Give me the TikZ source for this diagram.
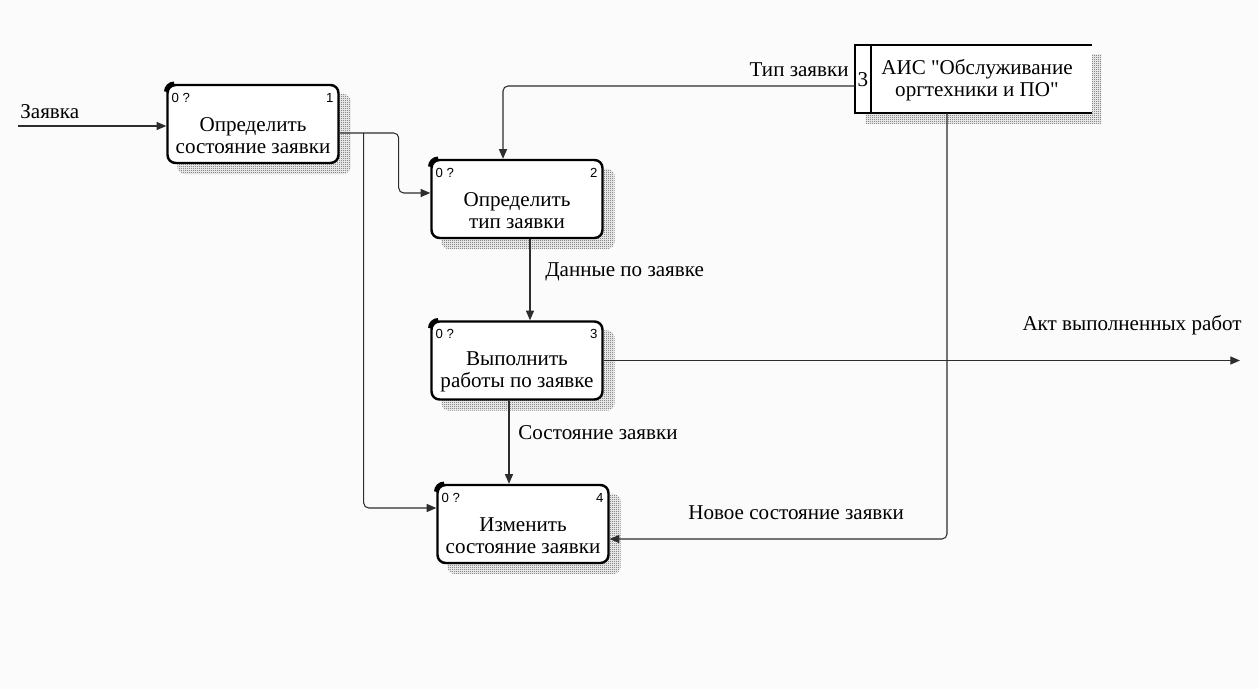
\documentclass[tikz,border=0pt]{standalone}
\usepackage{fontspec}
\setmainfont{Liberation Serif}
\newfontfamily\tagfont{Liberation Sans}
\usetikzlibrary{arrows.meta,patterns,calc}
\pgfdeclarelayer{back}
\pgfsetlayers{back,main}
% fine checkerboard used for the hatched shadows
\pgfdeclarepatternformonly{finechecker}{\pgfqpoint{0pt}{0pt}}{\pgfqpoint{1.2pt}{1.2pt}}{\pgfqpoint{1.2pt}{1.2pt}}{%
  \pgfpathrectangle{\pgfqpoint{0pt}{0pt}}{\pgfqpoint{0.6pt}{0.6pt}}%
  \pgfpathrectangle{\pgfqpoint{0.6pt}{0.6pt}}{\pgfqpoint{0.6pt}{0.6pt}}%
  \pgfusepath{fill}}
\definecolor{paper}{RGB}{251,251,251}
\definecolor{wire}{RGB}{45,45,45}
\tikzset{
  actbox/.style={draw=black, line width=1.4pt, fill=white, rounded corners=0.16cm,
    minimum width=3.42cm, minimum height=1.56cm, inner sep=0pt},
  boxtext/.style={align=center, font=\fontsize{12}{12.5}\selectfont, inner sep=0pt},
  tag/.style={font=\tagfont\fontsize{7.5}{8}\selectfont, inner sep=0pt},
  hatch/.style={pattern=finechecker, pattern color=black!70},
  conn/.style={draw=wire, line width=0.6pt, rounded corners=0.1cm,
    -{Triangle[length=5.5pt,width=4.6pt]}},
  lbl/.style={font=\fontsize{12}{12.5}\selectfont, inner sep=0pt},
}
\newcommand{\cornermark}[1]{%
  \draw[line width=2.6pt] ($(#1.north west)+(0,8)$) arc[start angle=180,end angle=90,radius=0.16cm];}
\begin{document}
\begin{tikzpicture}[x=0.02cm,y=-0.02cm]
\useasboundingbox (0,0) rectangle (1259,689);
\begin{pgfonlayer}{back}
  \fill[paper] (0,0) rectangle (1259,689);
\end{pgfonlayer}

% activity boxes
\node[actbox] (b1) at (253,124) {};
\node[actbox] (b2) at (517,199) {};
\node[actbox] (b3) at (517,360.5) {};
\node[actbox] (b4) at (523,524) {};

\node[boxtext] (t1) at ($(b1.center)+(0,12)$) {Определить\\состояние заявки};
\node[boxtext] (t2) at ($(b2.center)+(0,12)$) {Определить\\тип заявки};
\node[boxtext] (t3) at ($(b3.center)+(0,11)$) {Выполнить\\работы по заявке};
\node[boxtext] (t4) at ($(b4.center)+(0,12)$) {Изменить\\состояние заявки};

\foreach \b/\n in {b1/1,b2/2,b3/3,b4/4}{
  \node[tag, anchor=west] at ($(\b.north west)+(5,14)$) {0 ?};
  \node[tag, anchor=east] at ($(\b.north east)+(-6,14)$) {\n};
  \cornermark{\b}
}

% data store
\node[minimum width=4.74cm, minimum height=1.36cm, inner sep=0pt, fill=white] (ais) at (973.5,79) {};
\draw[line width=1.3pt] (ais.north east) -- (ais.north west) -- (ais.south west) -- (ais.south east);
\draw[line width=1.3pt] ([shift={(16,0)}]ais.north west) -- ([shift={(16,0)}]ais.south west);
\node[boxtext] (aist) at (977,80) {АИС \textquotedbl Обслуживание\\оргтехники и ПО\textquotedbl};
\node[lbl] (aisn) at (863,80) {3};

% hatched shadows
\begin{pgfonlayer}{back}
  \foreach \b in {b1,b2,b3,b4}{
    \fill[hatch, rounded corners=0.16cm] ($(\b.north west)+(11,10)$) rectangle ($(\b.south east)+(11,10)$);
  }
  \fill[hatch] ($(ais.north west)+(11,10)$) rectangle ($(ais.south east)+(9,10)$);
\end{pgfonlayer}

% arrows
\coordinate (src) at (18,126);
\coordinate (split) at ($(b1.east)+(24,9)$);
\coordinate (sink) at (1240,360.5);

\draw[conn] (src) -- (b1.west |- src);
\node[lbl, anchor=west] (lz) at (20,112) {Заявка};

\draw[conn] ([shift={(0,9)}]b1.east) -- ++(59,0) |- ([shift={(0,-6)}]b2.west);
\draw[conn] (split) |- ([shift={(0,-16)}]b4.west);

\draw[conn] ([shift={(0,7)}]ais.west) -| ([shift={(-14,0)}]b2.north);
\node[lbl, anchor=east] (lt) at (849,70) {Тип заявки};

\draw[conn] ([shift={(13,0)}]b2.south) -- ([shift={(13,0)}]b3.north);
\node[lbl, anchor=west] (ld) at (545,272) {Данные по заявке};

\draw[conn] (b3.east) -- (sink);
\node[lbl, anchor=east] (la) at (1242,325) {Акт выполненных работ};

\draw[conn] ([shift={(-8,0)}]b3.south) -- ([shift={(-14,0)}]b4.north);
\node[lbl, anchor=west] (ls) at (518,433) {Состояние заявки};

\draw[conn] ([shift={(-26.5,0)}]ais.south) |- ([shift={(0,15)}]b4.east);
\node[lbl, anchor=west] (ln) at (688,513) {Новое состояние заявки};
\end{tikzpicture}
\end{document}
